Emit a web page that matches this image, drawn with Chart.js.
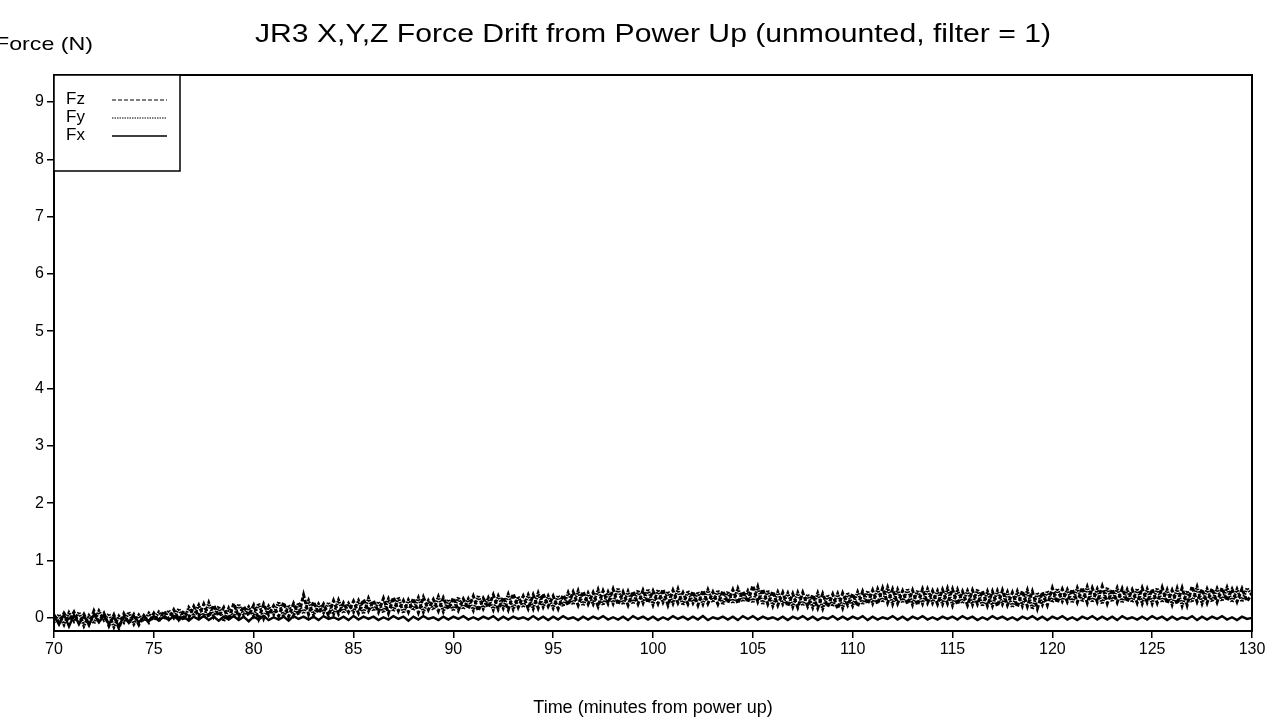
<!DOCTYPE html>
<html lang="en">
<head>
    <meta charset="UTF-8">
    <title>JR3 X,Y,Z Force Drift from Power Up</title>
    <script src="https://cdn.jsdelivr.net/npm/chart.js"></script>
    <style>
        html, body { margin: 0; padding: 0; background: #fff; }
        #wrap { width: 1272px; height: 723px; }
    </style>
</head>
<body>
    <div id="wrap"><canvas id="driftChart" width="1272" height="723"></canvas></div>

    <script>
        // samples every 0.25 min starting at 70 min
        const startMin = 70;
        const stepMin = 0.25;

        const xTicks = [70, 75, 80, 85, 90, 95, 100, 105, 110, 115, 120, 125, 130];
        const yTicks = [0, 1, 2, 3, 4, 5, 6, 7, 8, 9];

        const fz = [
            0.05,-0.08,0.08,-0.05, 0.10,-0.10,0.06,-0.12, 0.12,-0.06,0.08,-0.14, 0.05,-0.18,0.07,-0.09, 0.06,-0.12,0.04,-0.08,
            0.08,-0.06,0.12,-0.02, 0.14,-0.03,0.12,0.00, 0.20,0.02,0.24,0.01, 0.22,0.03,0.18,-0.04, 0.25,0.02,0.20,0.04,
            0.22,-0.02,0.24,0.05, 0.21,0.03,0.27,0.02, 0.25,0.05,0.40,0.06, 0.28,0.08,0.24,0.04, 0.30,0.07,0.26,0.10,
            0.29,0.08,0.32,0.12, 0.30,0.10,0.34,0.08, 0.36,0.12,0.30,0.10, 0.34,0.09,0.36,0.14, 0.32,0.12,0.35,0.15,
            0.35,0.13,0.33,0.16, 0.38,0.12,0.34,0.18, 0.40,0.15,0.36,0.14, 0.42,0.18,0.38,0.16, 0.40,0.17,0.42,0.20,
            0.38,0.16,0.40,0.22, 0.45,0.22,0.46,0.24, 0.44,0.20,0.47,0.25, 0.50,0.23,0.45,0.22, 0.46,0.24,0.48,0.26,
            0.47,0.25,0.50,0.22, 0.48,0.26,0.44,0.24, 0.46,0.22,0.48,0.25, 0.45,0.24,0.47,0.26, 0.49,0.25,0.46,0.27,
            0.56,0.28,0.50,0.24, 0.46,0.22,0.44,0.20, 0.42,0.18,0.44,0.20, 0.40,0.17,0.42,0.19, 0.41,0.16,0.43,0.22,
            0.42,0.20,0.46,0.24, 0.48,0.24,0.52,0.26, 0.50,0.25,0.47,0.24, 0.48,0.22,0.50,0.26, 0.47,0.24,0.49,0.25,
            0.50,0.23,0.46,0.22, 0.48,0.24,0.47,0.21, 0.46,0.20,0.48,0.22, 0.44,0.19,0.47,0.20, 0.46,0.16,0.45,0.22,
            0.52,0.26,0.50,0.28, 0.50,0.27,0.53,0.26, 0.52,0.28,0.55,0.25, 0.50,0.27,0.51,0.28, 0.49,0.26,0.52,0.27,
            0.50,0.26,0.53,0.25, 0.48,0.24,0.52,0.22, 0.55,0.28,0.50,0.26, 0.51,0.27,0.52,0.30, 0.50,0.28,0.51,0.29,
            0.42
        ];

        const fy = [
            -0.08,0.06,-0.12,0.09, -0.06,0.10,-0.14,0.04, -0.10,0.12,-0.04,0.07, -0.16,0.03,-0.08,0.10, -0.11,0.05,-0.06,0.08,
            -0.04,0.10,-0.02,0.13, 0.00,0.16,-0.04,0.18, 0.04,0.22,0.00,0.26, 0.02,0.20,-0.06,0.17, 0.00,0.24,0.05,0.19,
            0.03,0.25,-0.01,0.20, 0.06,0.28,0.02,0.22, 0.04,0.26,0.07,0.30, 0.05,0.24,0.09,0.27, 0.06,0.31,0.08,0.25,
            0.10,0.30,0.07,0.34, 0.12,0.28,0.09,0.33, 0.11,0.36,0.08,0.31, 0.13,0.35,0.10,0.30, 0.14,0.37,0.11,0.32,
            0.12,0.36,0.15,0.33, 0.13,0.39,0.16,0.35, 0.14,0.38,0.17,0.41, 0.15,0.37,0.18,0.40, 0.16,0.43,0.19,0.38,
            0.17,0.39,0.20,0.44, 0.23,0.47,0.21,0.43, 0.24,0.49,0.22,0.45, 0.25,0.52,0.23,0.46, 0.24,0.48,0.26,0.50,
            0.23,0.49,0.27,0.46, 0.25,0.50,0.22,0.47, 0.26,0.45,0.24,0.49, 0.27,0.48,0.23,0.46, 0.25,0.51,0.28,0.47,
            0.26,0.54,0.23,0.48, 0.21,0.45,0.24,0.43, 0.19,0.44,0.21,0.41, 0.18,0.43,0.16,0.40, 0.20,0.42,0.17,0.44,
            0.21,0.45,0.23,0.47, 0.25,0.50,0.27,0.53, 0.24,0.49,0.26,0.51, 0.23,0.48,0.25,0.50, 0.26,0.47,0.24,0.51,
            0.22,0.49,0.25,0.47, 0.23,0.50,0.20,0.46, 0.21,0.47,0.24,0.45, 0.18,0.46,0.21,0.48, 0.15,0.44,0.23,0.47,
            0.27,0.51,0.29,0.49, 0.26,0.52,0.28,0.54, 0.27,0.50,0.24,0.53, 0.28,0.52,0.26,0.49, 0.27,0.51,0.25,0.50,
            0.25,0.52,0.27,0.49, 0.23,0.51,0.21,0.47, 0.27,0.54,0.25,0.50, 0.28,0.51,0.29,0.53, 0.27,0.50,0.28,0.52,
            0.40
        ];

        const fx = [
            0.04,-0.12,0.06,-0.15, 0.05,-0.10,0.03,-0.12, 0.06,-0.08,0.04,-0.11, 0.02,-0.15,0.03,-0.09, 0.03,-0.08,0.02,-0.06,
            0.03,-0.05,0.02,-0.04, 0.03,-0.04,0.02,-0.05, 0.02,-0.03,0.03,-0.04, 0.02,-0.05,0.02,-0.03, 0.03,-0.04,0.02,-0.06,
            0.02,-0.03,0.03,-0.04, 0.01,-0.03,0.02,-0.05, 0.03,-0.02,0.02,-0.03, 0.02,-0.04,0.03,-0.02, 0.01,-0.03,0.02,-0.04,
            0.03,-0.03,0.02,-0.02, 0.02,-0.04,0.01,-0.03, 0.03,-0.02,0.02,-0.05, 0.02,-0.03,0.03,-0.02, 0.01,-0.04,0.02,-0.03,
            0.02,-0.02,0.03,-0.03, 0.01,-0.03,0.02,-0.02, 0.03,-0.04,0.02,-0.03, 0.02,-0.02,0.01,-0.03, 0.03,-0.03,0.02,-0.04,
            0.02,-0.03,0.03,-0.02, 0.01,-0.04,0.02,-0.03, 0.02,-0.02,0.03,-0.03, 0.01,-0.03,0.02,-0.04, 0.03,-0.02,0.02,-0.03,
            0.02,-0.04,0.01,-0.03, 0.03,-0.02,0.02,-0.03, 0.02,-0.03,0.03,-0.04, 0.01,-0.02,0.02,-0.03, 0.02,-0.04,0.03,-0.02,
            0.03,-0.03,0.02,-0.02, 0.01,-0.03,0.02,-0.04, 0.02,-0.02,0.03,-0.03, 0.02,-0.04,0.01,-0.02, 0.03,-0.03,0.02,-0.03,
            0.02,-0.02,0.03,-0.04, 0.02,-0.03,0.01,-0.02, 0.03,-0.03,0.02,-0.04, 0.02,-0.02,0.03,-0.03, 0.01,-0.03,0.02,-0.02,
            0.02,-0.03,0.03,-0.02, 0.02,-0.04,0.01,-0.03, 0.03,-0.02,0.02,-0.03, 0.01,-0.04,0.02,-0.02, 0.03,-0.03,0.02,-0.04,
            0.02,-0.02,0.03,-0.03, 0.01,-0.04,0.02,-0.02, 0.03,-0.03,0.02,-0.03, 0.02,-0.04,0.03,-0.02, 0.01,-0.03,0.02,-0.03,
            0.03,-0.02,0.02,-0.04, 0.02,-0.03,0.01,-0.02, 0.03,-0.04,0.02,-0.03, 0.02,-0.02,0.03,-0.03, 0.01,-0.04,0.02,-0.02,
            0.00
        ];

        const toPoints = arr => arr.map((v, i) => ({ x: startMin + i * stepMin, y: v }));

        const FONT = '"Liberation Sans", Arial, sans-serif';

        // text drawn a bit wider than the font, like the original export
        function wideText(ctx, text, x, y, size, width, align) {
            ctx.save();
            ctx.font = size + 'px ' + FONT;
            const w = ctx.measureText(text).width;
            const sx = width / w;
            const left = align === 'center' ? x - width / 2 : x;
            ctx.translate(left, y);
            ctx.scale(sx, 1);
            ctx.textAlign = 'left';
            ctx.textBaseline = 'alphabetic';
            ctx.fillText(text, 0, 0);
            ctx.restore();
        }

        // frame, free-floating texts and the boxed legend
        const decorations = {
            id: 'decorations',
            afterDraw(chart) {
                const { ctx, chartArea: a } = chart;
                ctx.save();
                ctx.strokeStyle = '#000';
                ctx.lineWidth = 2;
                ctx.strokeRect(a.left, a.top, a.right - a.left, a.bottom - a.top);

                ctx.fillStyle = '#000';
                wideText(ctx, 'JR3 X,Y,Z Force Drift from Power Up (unmounted, filter = 1)', 653, 42, 26, 796, 'center');
                wideText(ctx, 'Force (N)', -5, 50, 19, 98, 'left');

                ctx.font = '18px ' + FONT;
                ctx.textBaseline = 'middle';
                ctx.textAlign = 'center';
                ctx.fillText('Time (minutes from power up)', 653, 708);

                // legend box
                const lx = a.left, ly = a.top, lw = 126, lh = 96;
                ctx.fillStyle = '#fff';
                ctx.fillRect(lx, ly, lw, lh);
                ctx.lineWidth = 1.5;
                ctx.strokeRect(lx, ly, lw, lh);
                ctx.font = '17px ' + FONT;
                ctx.textAlign = 'left';
                chart.data.datasets.forEach((ds, i) => {
                    const y = ly + 24 + i * 18;
                    ctx.fillStyle = '#000';
                    ctx.fillText(ds.label, lx + 12, y);
                    ctx.beginPath();
                    ctx.setLineDash(ds.borderDash || []);
                    ctx.lineWidth = ds.label === 'Fx' ? 1.5 : 1;
                    ctx.moveTo(lx + 58, y + 1);
                    ctx.lineTo(lx + 113, y + 1);
                    ctx.stroke();
                });
                ctx.restore();
            }
        };

        const ctx = document.getElementById('driftChart').getContext('2d');
        new Chart(ctx, {
            type: 'line',
            data: {
                datasets: [
                    { label: 'Fz', data: toPoints(fz), borderColor: '#000', borderWidth: 3, borderDash: [4, 2] },
                    { label: 'Fy', data: toPoints(fy), borderColor: '#000', borderWidth: 3, borderDash: [1.5, 1] },
                    { label: 'Fx', data: toPoints(fx), borderColor: '#000', borderWidth: 2.4 }
                ]
            },
            options: {
                responsive: false,
                animation: false,
                events: [],
                layout: { padding: { top: 75, right: 20, left: 0, bottom: 0 } },
                elements: { point: { radius: 0 }, line: { tension: 0 } },
                scales: {
                    x: {
                        type: 'linear',
                        min: 70,
                        max: 130,
                        afterFit: s => { s.height = 92; },
                        afterBuildTicks: s => { s.ticks = xTicks.map(v => ({ value: v })); },
                        grid: { display: true, drawOnChartArea: false, drawTicks: true, tickLength: 7, color: '#000', lineWidth: 1.5 },
                        border: { display: true, color: '#000', width: 2 },
                        ticks: { color: '#000', font: { family: FONT, size: 16 }, maxRotation: 0, padding: 2 }
                    },
                    y: {
                        type: 'linear',
                        min: -0.23,
                        max: 9.47,
                        afterFit: s => { s.width = 54; },
                        afterBuildTicks: s => { s.ticks = yTicks.map(v => ({ value: v })); },
                        grid: { display: true, drawOnChartArea: false, drawTicks: true, tickLength: 7, color: '#000', lineWidth: 1.5 },
                        border: { display: true, color: '#000', width: 2 },
                        ticks: { color: '#000', font: { family: FONT, size: 16 }, padding: 3 }
                    }
                },
                plugins: {
                    legend: { display: false },
                    tooltip: { enabled: false },
                    title: { display: false }
                }
            },
            plugins: [decorations]
        });
    </script>
</body>
</html>
